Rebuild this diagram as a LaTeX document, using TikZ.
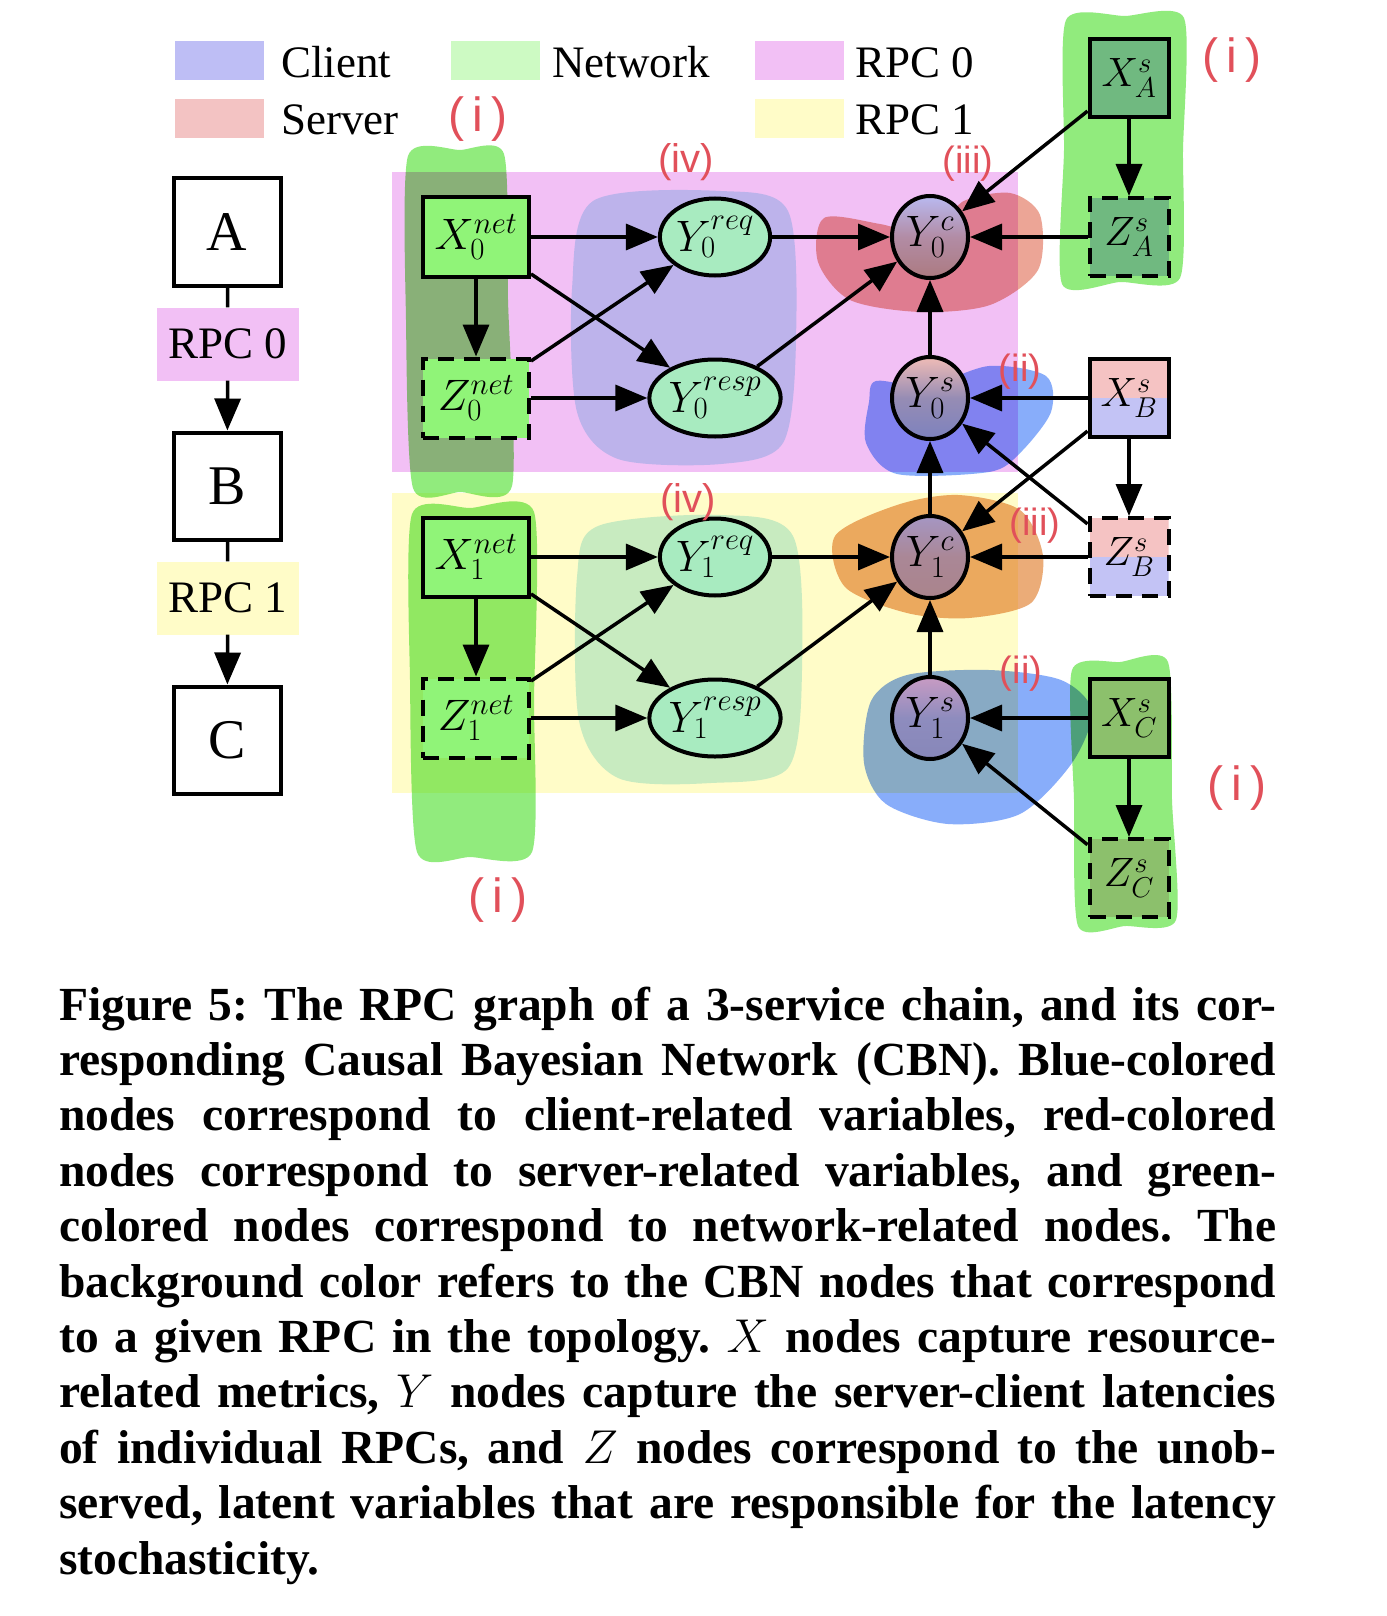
\RequirePackage{fix-cm}
\documentclass[tikz,border=0pt]{standalone}
\usepackage[no-math]{fontspec}
\setmainfont{Liberation Serif}
\newfontfamily\handfont{Liberation Sans}
\usetikzlibrary{arrows.meta,shapes.geometric}
\pgfdeclarelayer{bg}
\pgfdeclarelayer{hl}
\pgfsetlayers{bg,hl,main}

\definecolor{clientc}{RGB}{190,190,245}
\definecolor{serverc}{RGB}{243,195,195}
\definecolor{netc}{RGB}{205,250,195}
\definecolor{rpczero}{RGB}{242,192,245}
\definecolor{rpcone}{RGB}{255,252,200}
\definecolor{hlgreen}{RGB}{145,235,125}
\definecolor{hlcyan}{RGB}{200,238,245}
\definecolor{hlred}{RGB}{236,165,150}
\definecolor{hlorange}{RGB}{235,172,120}
\definecolor{hlblue}{RGB}{136,173,250}
\definecolor{netnode}{RGB}{144,244,120}
\definecolor{ynode}{RGB}{168,235,192}
\definecolor{anode}{RGB}{112,185,128}
\definecolor{cnode}{RGB}{140,192,108}
\definecolor{bpink}{RGB}{245,195,195}
\definecolor{bblue}{RGB}{195,195,245}
\definecolor{handred}{RGB}{225,80,90}

\newcommand\nodefs{\fontsize{44}{50}\selectfont}
\newcommand\sfs{\fontsize{41}{46}\selectfont}
\newcommand\legfs{\fontsize{45}{50}\selectfont}
\newcommand\chainfs{\fontsize{56}{60}\selectfont}
\newcommand\handfs{\handfont\fontsize{40}{42}\selectfont}
\newcommand\handbig{\handfont\fontsize{48}{50}\selectfont}
\newcommand\handsmall{\handfont\fontsize{38}{40}\selectfont}
\newcommand\capline[1]{\hbox to\hsize{#1}}

\tikzset{
  netbox/.style={draw, line width=4pt, fill=netnode, minimum width=106pt, minimum height=79pt, inner sep=0pt, font=\nodefs},
  netz/.style={netbox, dash pattern=on 16pt off 10pt},
  sbox/.style={draw, line width=4pt, minimum width=79pt, minimum height=78pt, inner sep=0pt, font=\sfs},
  sz/.style={sbox, dash pattern=on 16pt off 10pt},
  split/.style={path picture={
     \fill[bpink] (path picture bounding box.north west) rectangle (path picture bounding box.east);
     \fill[bblue] (path picture bounding box.west) rectangle (path picture bounding box.south east);}},
  yell/.style={draw, ellipse, line width=4pt, fill=ynode, minimum height=77pt, inner sep=0pt, font=\nodefs},
  ycs/.style={draw, ellipse, line width=4pt, minimum width=76pt, minimum height=82pt, inner sep=0pt, font=\nodefs},
  arr/.style={line width=3.5pt, -{Triangle[length=32pt,width=26pt]}},
  plainline/.style={line width=3.5pt},
  chainbox/.style={draw, line width=4pt, minimum width=107pt, minimum height=107pt, inner sep=0pt, font=\chainfs},
  rpclabel/.style={minimum width=142pt, minimum height=73pt, inner sep=0pt, font=\legfs},
  swatch/.style={inner sep=0pt, minimum width=89pt, minimum height=39pt},
  legtext/.style={anchor=base west, inner sep=0pt, font=\legfs},
  hand/.style={text=handred, font=\handfs, inner sep=0pt},
}

\begin{document}
\begin{tikzpicture}[x=1pt,y=-1pt]
\useasboundingbox (0,0) rectangle (1386,1616);
\begin{pgfonlayer}{bg}
\fill[white] (0,0) rectangle (1386,1616);
\fill[rpczero] (392,172) rectangle (1018,472);
\fill[rpcone] (392,493) rectangle (1018,793);
\end{pgfonlayer}

% legend
\node[swatch, fill=clientc] (swc) at (219.5,60.5) {};
\node[legtext] (tc) at (281,78) {Client};
\node[swatch, fill=serverc] (sws) at (219.5,118.5) {};
\node[legtext] (ts) at (281,135) {Server};
\node[swatch, fill=netc] (swn) at (495,60.5) {};
\node[legtext] (tn) at (552,78) {Network};
\node[swatch, fill=rpczero] (swr0) at (799,60.5) {};
\node[legtext] (tr0) at (855,78) {RPC 0};
\node[swatch, fill=rpcone] (swr1) at (799,118.5) {};
\node[legtext] (tr1) at (855,135) {RPC 1};

% chain
\node[chainbox] (A) at (227,232) {A};
\node[rpclabel, fill=rpczero] (L0) at (228,344) {RPC 0};
\node[chainbox] (B) at (227,486) {B};
\node[rpclabel, fill=rpcone] (L1) at (228,598) {RPC 1};
\node[chainbox] (C) at (227,740) {C};
\draw[plainline] (A) -- (L0);
\draw[arr] (L0) -- (B);
\draw[plainline] (B) -- (L1);
\draw[arr] (L1) -- (C);

% highlighter strokes
\begin{pgfonlayer}{hl}
\begin{scope}[blend mode=multiply]
\fill[hlgreen] plot[smooth cycle, tension=0.4] coordinates {(408,156) (460,150) (504,154) (508,300) (512,486) (460,492) (413,488) (406,320)};
\fill[hlgreen] plot[smooth cycle, tension=0.4] coordinates {(412,514) (470,508) (534,512) (534,700) (532,852) (470,857) (417,852) (410,680)};
\fill[hlgreen] plot[smooth cycle, tension=0.4] coordinates {(1066,20) (1125,16) (1184,18) (1183,150) (1180,278) (1120,282) (1062,284) (1064,150)};
\fill[hlgreen] plot[smooth cycle, tension=0.4] coordinates {(1072,670) (1120,662) (1168,662) (1172,800) (1176,920) (1125,926) (1078,926) (1074,800)};
\fill[hlcyan] plot[smooth cycle] coordinates {(593,201) (721,191) (788,211) (796,340) (783,443) (721,464) (618,459) (577,412) (572,289)};
\fill[hlcyan] plot[smooth cycle] coordinates {(598,526) (721,515) (793,536) (802,670) (788,768) (711,783) (618,778) (579,721) (577,577)};
\fill[hlred] plot[smooth cycle] coordinates {(824,218) (880,224) (935,236) (962,202) (1010,193) (1040,215) (1038,270) (990,305) (920,312) (850,300) (818,262)};
\fill[hlblue] plot[smooth cycle] coordinates {(876,381) (927,386) (989,366) (1046,376) (1051,412) (1020,453) (989,472) (897,474) (866,443) (869,402)};
\fill[hlorange] plot[smooth cycle] coordinates {(835,536) (897,505) (958,495) (1020,510) (1043,556) (1031,603) (969,618) (907,613) (845,587)};
\fill[hlblue] plot[smooth cycle] coordinates {(871,701) (907,675) (989,670) (1061,680) (1092,711) (1072,763) (1020,814) (948,824) (886,804) (864,763)};
\end{scope}
\end{pgfonlayer}

% CBN nodes, RPC 0
\node[netbox] (X0) at (476,237) {$X_0^{net}$};
\node[netz] (Z0) at (476,398) {$Z_0^{net}$};
\node[yell, minimum width=108pt] (R0) at (715,237) {$Y_0^{req}$};
\node[yell, minimum width=128pt] (P0) at (715,398) {$Y_0^{resp}$};
\node[ycs, top color={rgb,255:red,185;green,185;blue,240}, bottom color={rgb,255:red,172;green,122;blue,128}, middle color={rgb,255:red,178;green,140;blue,165}] (C0) at (930,237) {$Y_0^c$};
\node[ycs, top color={rgb,255:red,240;green,188;blue,182}, bottom color={rgb,255:red,125;green,130;blue,190}, middle color={rgb,255:red,150;green,140;blue,180}] (S0) at (930,398) {$Y_0^s$};
% RPC 1
\node[netbox] (X1) at (476,557) {$X_1^{net}$};
\node[netz] (Z1) at (476,718) {$Z_1^{net}$};
\node[yell, minimum width=108pt] (R1) at (715,557) {$Y_1^{req}$};
\node[yell, minimum width=128pt] (P1) at (715,718) {$Y_1^{resp}$};
\node[ycs, top color={rgb,255:red,165;green,150;blue,195}, bottom color={rgb,255:red,170;green,132;blue,140}, middle color={rgb,255:red,170;green,135;blue,150}] (C1) at (930,557) {$Y_1^c$};
\node[ycs, top color={rgb,255:red,200;green,155;blue,195}, bottom color={rgb,255:red,135;green,135;blue,185}, middle color={rgb,255:red,142;green,140;blue,190}] (S1) at (930,718) {$Y_1^s$};
% services
\node[sbox, fill=anode] (XA) at (1129,78) {$X_A^s$};
\node[sz, fill=anode] (ZA) at (1129,237) {$Z_A^s$};
\node[sbox, split] (XB) at (1129,398) {$X_B^s$};
\node[sz, split] (ZB) at (1129,557) {$Z_B^s$};
\node[sbox, fill=cnode] (XC) at (1129,718) {$X_C^s$};
\node[sz, fill=cnode] (ZC) at (1129,878) {$Z_C^s$};

% edges
\draw[arr] (X0) -- (R0);
\draw[arr] (X0) -- (Z0);
\draw[arr] (X0) -- (P0);
\draw[arr] (Z0) -- (R0);
\draw[arr] (Z0) -- (P0);
\draw[arr] (R0) -- (C0);
\draw[arr] (P0) -- (C0);
\draw[arr] (S0) -- (C0);
\draw[arr] (ZA) -- (C0);
\draw[arr] (XA) -- (C0);
\draw[arr] (XA) -- (ZA);
\draw[arr] (XB) -- (S0);
\draw[arr] (XB) -- (ZB);
\draw[arr] (XB) -- (C1);
\draw[arr] (ZB) -- (S0);
\draw[arr] (ZB) -- (C1);
\draw[arr] (C1) -- (S0);
\draw[arr] (X1) -- (R1);
\draw[arr] (X1) -- (Z1);
\draw[arr] (X1) -- (P1);
\draw[arr] (Z1) -- (R1);
\draw[arr] (Z1) -- (P1);
\draw[arr] (R1) -- (C1);
\draw[arr] (P1) -- (C1);
\draw[arr] (S1) -- (C1);
\draw[arr] (XC) -- (S1);
\draw[arr] (XC) -- (ZC);
\draw[arr] (ZC) -- (S1);

% handwritten marks
\node[hand, font=\handbig] (h1) at (478,119) {(\,i\,)};
\node[hand, font=\handbig] (h2) at (1232,60) {(\,i\,)};
\node[hand] (h3) at (686,162) {(iv)};
\node[hand, font=\handsmall] (h4) at (968,164) {(iii)};
\node[hand, font=\handsmall] (h5) at (1020,372) {(ii)};
\node[hand] (h6) at (688,502) {(iv)};
\node[hand, font=\handsmall] (h7) at (1035,526) {(iii)};
\node[hand, font=\handsmall] (h8) at (1021,674) {(ii)};
\node[hand, font=\handbig] (h9) at (1237,788) {(\,i\,)};
\node[hand, font=\handbig] (h10) at (498,900) {(\,i\,)};

% caption
\node[anchor=base west, inner sep=0pt] (cap) at (59,1020) {\parbox[t]{1217pt}{\fontsize{47.5}{55.4}\selectfont\bfseries\frenchspacing
\capline{Figure 5: The RPC graph of a 3-service chain, and its cor-}
\capline{responding Causal Bayesian Network (CBN). Blue-colored}
\capline{nodes correspond to client-related variables, red-colored}
\capline{nodes correspond to server-related variables, and green-}
\capline{colored nodes correspond to network-related nodes. The}
\capline{background color refers to the CBN nodes that correspond}
\capline{to a given RPC in the topology. $X$ nodes capture resource-}
\capline{related metrics, $Y$ nodes capture the server-client latencies}
\capline{of individual RPCs, and $Z$ nodes correspond to the unob-}
\capline{served, latent variables that are responsible for the latency}
\hbox{stochasticity.}}};
\end{tikzpicture}
\end{document}
